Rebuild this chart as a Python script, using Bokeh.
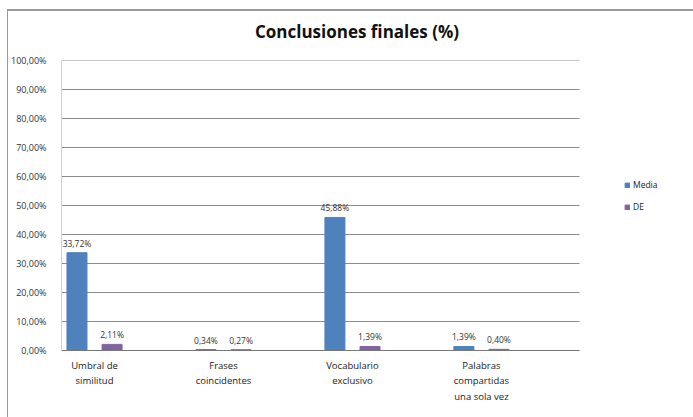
from bokeh.plotting import figure
from bokeh.models import ColumnDataSource, FixedTicker, Range1d, Legend, LegendItem, Div
from bokeh.layouts import column
from bokeh.core.properties import value
from bokeh.embed import file_html
from bokeh.resources import INLINE

title_text = "Conclusiones finales (%)"
categories = ["Umbral de\nsimilitud", "Frases\ncoincidentes", "Vocabulario\nexclusivo", "Palabras\ncompartidas\nuna sola vez"]
media = [33.72, 0.34, 45.88, 1.39]
de = [2.11, 0.27, 1.39, 0.40]
y_ticks = [0, 10, 20, 30, 40, 50, 60, 70, 80, 90, 100]

FONT = "Open Sans"
def fmt(v):
    return ("%.2f" % v).replace(".", ",") + "%"

xs = [i + 1 for i in range(len(categories))]
off = 0.136
bw = 0.155
X0, X1 = 0.744, 4.76          # plot-area extent (category units)
XR = 5.652                    # canvas extends to the right edge (legend area)

src_m = ColumnDataSource(dict(x=[x - off for x in xs], top=media, lab=[fmt(v) for v in media]))
src_d = ColumnDataSource(dict(x=[x + off for x in xs], top=de, lab=[fmt(v) for v in de]))

title = Div(text=('<div style="width:686px;text-align:center;padding-top:6px;padding-left:2px;'
                  'box-sizing:border-box;font-family:\'Open Sans\';font-weight:bold;font-size:17px;'
                  'line-height:20px;color:#111111;">%s</div>' % title_text),
            width=686, height=30)

p = figure(width=686, height=366, output_backend="svg", toolbar_location=None,
           x_range=Range1d(X0, XR), y_range=Range1d(0, 100),
           min_border_left=53, min_border_right=0, min_border_top=9, min_border_bottom=67)
p.outline_line_color = None
p.background_fill_color = "white"
p.border_fill_color = "white"

# horizontal gridlines limited to the plot area
p.segment(x0=[X0] * len(y_ticks), x1=[X1] * len(y_ticks), y0=y_ticks, y1=y_ticks,
          line_color="#8c8c8c", line_width=1)

r_m = p.vbar(x="x", top="top", width=bw, source=src_m, color="#4F81BD")
r_d = p.vbar(x="x", top="top", width=bw, source=src_d, color="#8064A2")

for s in (src_m, src_d):
    p.text(x="x", y="top", text="lab", source=s, text_align="center", text_baseline="bottom",
           y_offset=-4, text_font=value(FONT), text_font_size="8.5px", text_color="#333333")

p.xgrid.grid_line_color = None
p.ygrid.grid_line_color = None

p.yaxis.ticker = FixedTicker(ticks=y_ticks)
p.yaxis.major_label_overrides = {t: fmt(t) for t in y_ticks}
p.yaxis.axis_line_color = "#d0d0d0"
p.yaxis.major_tick_line_color = None
p.yaxis.minor_tick_line_color = None
p.yaxis.major_label_text_font = FONT
p.yaxis.major_label_text_font_size = "9px"
p.yaxis.major_label_text_color = "#333333"
p.yaxis.major_label_standoff = 9

p.xaxis.ticker = FixedTicker(ticks=xs)
p.xaxis.bounds = (X0, X1)
p.xaxis.major_label_overrides = {x: c for x, c in zip(xs, categories)}
p.xaxis.axis_line_color = "#777777"
p.xaxis.major_tick_line_color = None
p.xaxis.minor_tick_line_color = None
p.xaxis.major_label_text_font = FONT
p.xaxis.major_label_text_font_size = "9.5px"
p.xaxis.major_label_text_color = "#222222"
p.xaxis.major_label_standoff = 2

legend = Legend(items=[LegendItem(label="Media", renderers=[r_m]), LegendItem(label="DE", renderers=[r_d])],
                location=(563, 138), orientation="vertical", padding=0, margin=0, spacing=11,
                glyph_width=6, glyph_height=6, label_height=10, label_standoff=3,
                label_text_font=FONT, label_text_font_size="8.5px", label_text_color="#222222",
                border_line_color=None, background_fill_alpha=0)
p.add_layout(legend, "center")

layout = column(title, p, spacing=0)
layout.styles = {"margin-left": "7px", "margin-top": "9px", "border-top": "2px solid #9a9a9a",
                 "border-left": "1px solid #9a9a9a", "background-color": "white"}

open("out.html", "w").write(file_html(layout, INLINE))
